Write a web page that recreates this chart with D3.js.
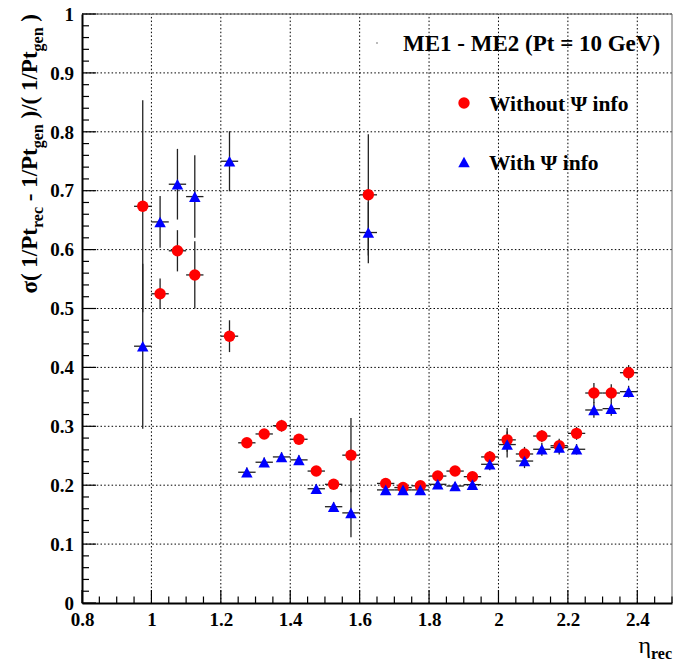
<!DOCTYPE html>
<html>
<head>
<meta charset="utf-8">
<script src="https://cdn.jsdelivr.net/npm/d3@7"></script>
<style>
  html, body { margin: 0; padding: 0; background: #fff; }
  svg { display: block; }
  text { font-family: "Liberation Serif", "Times New Roman", serif; font-weight: bold; fill: #000; }
</style>
</head>
<body>
<svg id="chart" width="675" height="666"></svg>
<script>
// eta bin centres (bin width 0.05)
const etaBins = [0.975, 1.025, 1.075, 1.125, 1.225, 1.275, 1.325, 1.375, 1.425, 1.475,
                 1.525, 1.575, 1.625, 1.675, 1.725, 1.775, 1.825, 1.875, 1.925, 1.975,
                 2.025, 2.075, 2.125, 2.175, 2.225, 2.275, 2.325, 2.375];
const etaHalfWidth = 0.025;

// resolution without Psi information
const withoutPsi    = [0.6735, 0.525, 0.598, 0.557, 0.453, 0.272, 0.287, 0.301, 0.278, 0.224,
                       0.2015, 0.251, 0.693, 0.203, 0.196, 0.199, 0.2155, 0.224, 0.2145, 0.248,
                       0.277, 0.253, 0.2835, 0.267, 0.288, 0.3565, 0.3565, 0.391];
const withoutPsiErr = [0.18, 0.026, 0.035, 0.057, 0.027, 0.008, 0.008, 0.01, 0.008, 0.007,
                       0.008, 0.063, 0.103, 0.006, 0.006, 0.006, 0.008, 0.008, 0.008, 0.01,
                       0.02, 0.012, 0.01, 0.012, 0.011, 0.017, 0.015, 0.013];

// resolution with Psi information
const withPsi       = [0.436, 0.647, 0.711, 0.690, 0.750, 0.222, 0.239, 0.248, 0.243, 0.194,
                       0.1635, 0.153, 0.629, 0.192, 0.192, 0.192, 0.2015, 0.1986, 0.201, 0.2355,
                       0.269, 0.241, 0.261, 0.264, 0.261, 0.3277, 0.33, 0.3588];
const withPsiErr    = [0.14, 0.044, 0.06, 0.07, 0.051, 0.008, 0.008, 0.008, 0.008, 0.008,
                       0.008, 0.0415, 0.052, 0.006, 0.006, 0.006, 0.007, 0.007, 0.007, 0.01,
                       0.022, 0.012, 0.011, 0.012, 0.009, 0.013, 0.012, 0.01];

const xTicks = [0.8, 1, 1.2, 1.4, 1.6, 1.8, 2, 2.2, 2.4];
const yTicks = [0, 0.1, 0.2, 0.3, 0.4, 0.5, 0.6, 0.7, 0.8, 0.9, 1];

const legendTitle = "ME1 - ME2 (Pt = 10 GeV)";
const legendLabels = ["Without \u03A8 info", "With \u03A8 info"];

const W = 675, H = 666;
const margin = { top: 14, right: 3, bottom: 63, left: 82 };
const svg = d3.select("#chart");

const x = d3.scaleLinear().domain([0.8, 2.5]).range([margin.left, W - margin.right]);
const y = d3.scaleLinear().domain([0, 1]).range([H - margin.bottom, margin.top]);

// dotted grid at the major ticks
const grid = svg.append("g").attr("stroke", "#000").attr("stroke-width", 1)
  .attr("stroke-dasharray", "1.5,2.2");
grid.selectAll("line.gx").data(xTicks.filter(d => d > 0.8)).join("line")
  .attr("x1", d => x(d)).attr("x2", d => x(d))
  .attr("y1", y(0)).attr("y2", y(1));
grid.selectAll("line.gy").data(yTicks.filter(d => d > 0)).join("line")
  .attr("x1", x(0.8)).attr("x2", x(2.5))
  .attr("y1", d => y(d)).attr("y2", d => y(d));

// frame: thin top/right
svg.append("line").attr("x1", x(0.8)).attr("x2", x(2.5)).attr("y1", y(1)).attr("y2", y(1))
  .attr("stroke", "#555").attr("stroke-width", 1);
svg.append("line").attr("x1", x(2.5)).attr("x2", x(2.5)).attr("y1", y(0)).attr("y2", y(1))
  .attr("stroke", "#666").attr("stroke-width", 1);

// x axis
const xAxis = d3.axisBottom(x).tickValues(xTicks).tickFormat(d3.format("")).tickSize(0).tickPadding(0);
const gx = svg.append("g").attr("transform", `translate(0,${y(0)})`).call(xAxis);
gx.select(".domain").attr("stroke", "#000").attr("stroke-width", 2);
gx.selectAll(".tick text").attr("font-size", 19).attr("dy", null).attr("y", 23)
  .style("font-family", "Liberation Serif").style("font-weight", "bold");
// inward ticks on x
const xMinor = d3.range(0.8, 2.5001, 0.05).map(v => +v.toFixed(2));
svg.append("g").selectAll("line").data(xMinor).join("line")
  .attr("x1", d => x(d)).attr("x2", d => x(d))
  .attr("y1", y(0))
  .attr("y2", d => y(0) - (xTicks.some(t => Math.abs(t - d) < 1e-6) ? 13 : 6.5))
  .attr("stroke", "#000").attr("stroke-width", 1.2);

// y axis
const yAxis = d3.axisLeft(y).tickValues(yTicks).tickFormat(d3.format("")).tickSize(0).tickPadding(8);
const gy = svg.append("g").attr("transform", `translate(${x(0.8)},0)`).call(yAxis);
gy.select(".domain").attr("stroke", "#000").attr("stroke-width", 2);
gy.selectAll(".tick text").attr("font-size", 19).attr("dy", "0.33em")
  .style("font-family", "Liberation Serif").style("font-weight", "bold");
const yMinor = d3.range(0, 1.0001, 0.02).map(v => +v.toFixed(2));
svg.append("g").selectAll("line").data(yMinor).join("line")
  .attr("x1", x(0.8))
  .attr("x2", d => x(0.8) + (yTicks.some(t => Math.abs(t - d) < 1e-6) ? 14 : 7))
  .attr("y1", d => y(d)).attr("y2", d => y(d))
  .attr("stroke", "#000").attr("stroke-width", 1.2);

// data series
const series = [
  { vals: withoutPsi, errs: withoutPsiErr, color: "#ff0000", shape: "circle" },
  { vals: withPsi,    errs: withPsiErr,    color: "#0000ff", shape: "triangle" }
];

const circleSym = d3.symbol().type(d3.symbolCircle).size(Math.PI * 5.7 * 5.7);
// upward triangle, centred on the point
function triPath(s) {
  const h = s * 0.92;
  return `M0,${-h / 2}L${s / 2},${h / 2}L${-s / 2},${h / 2}Z`;
}

const errG = svg.append("g").attr("stroke", "#222").attr("stroke-width", 1.3);
series.forEach(s => {
  const pts = etaBins.map((e, i) => ({ e, v: s.vals[i], err: s.errs[i] }));
  errG.append("g").selectAll("line").data(pts).join("line")
    .attr("x1", d => x(d.e)).attr("x2", d => x(d.e))
    .attr("y1", d => y(d.v - d.err)).attr("y2", d => y(d.v + d.err));
  errG.append("g").selectAll("line").data(pts).join("line")
    .attr("x1", d => x(d.e - etaHalfWidth)).attr("x2", d => x(d.e + etaHalfWidth))
    .attr("y1", d => y(d.v)).attr("y2", d => y(d.v));
});

series.forEach(s => {
  const pts = etaBins.map((e, i) => ({ e, v: s.vals[i] }));
  svg.append("g").selectAll("path").data(pts).join("path")
    .attr("transform", d => `translate(${x(d.e)},${y(d.v)})`)
    .attr("d", s.shape === "circle" ? circleSym() : triPath(11.5))
    .attr("fill", s.color);
});

// legend
svg.append("circle").attr("cx", 377).attr("cy", 43).attr("r", 0.7).attr("fill", "#444");
svg.append("text").attr("x", 403).attr("y", 43).attr("dy", "0.35em")
  .attr("font-size", 23).text(legendTitle);
svg.append("path").attr("transform", "translate(464,103)").attr("d", circleSym()).attr("fill", "#ff0000");
svg.append("text").attr("x", 489).attr("y", 103).attr("dy", "0.35em")
  .attr("font-size", 21.5).text(legendLabels[0]);
svg.append("path").attr("transform", "translate(464,162)").attr("d", triPath(11.5)).attr("fill", "#0000ff");
svg.append("text").attr("x", 489).attr("y", 162).attr("dy", "0.35em")
  .attr("font-size", 21.5).text(legendLabels[1]);

// y-axis title with subscripts
const yt = svg.append("text")
  .attr("transform", `translate(37,${y(1)}) rotate(-90)`)
  .attr("text-anchor", "end").attr("font-size", 23);
const parts = [
  ["\u03C3( 1/Pt", 0], ["rec", 1], [" - 1/Pt", 0], ["gen", 1], [" )/( 1/Pt", 0], ["gen", 1], [" )", 0]
];
parts.forEach(([t, sub], i) => {
  const ts = yt.append("tspan").text(t);
  if (sub) ts.attr("font-size", 16).attr("dy", 6);
  else if (i > 0) ts.attr("dy", -6);
});

const xt = svg.append("text").attr("x", x(2.5)).attr("y", 653).attr("text-anchor", "end")
  .attr("font-size", 24);
xt.append("tspan").style("font-weight", "normal").text("\u03B7");
xt.append("tspan").attr("font-size", 16).attr("dy", 6).text("rec");
</script>
</body>
</html>
